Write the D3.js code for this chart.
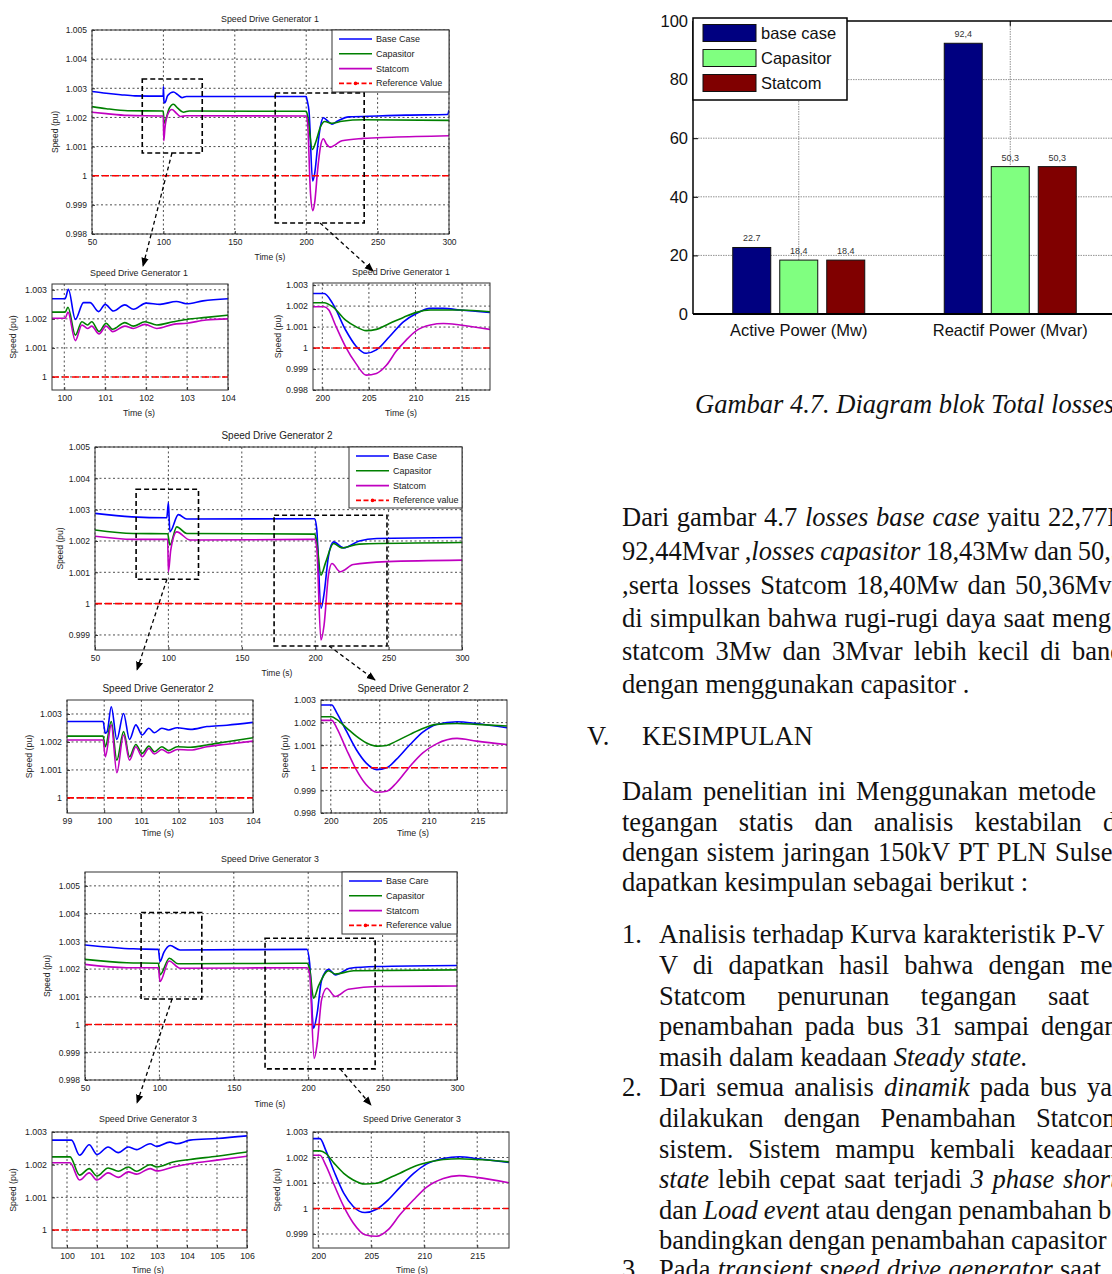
<!DOCTYPE html>
<html>
<head>
<meta charset="UTF-8">
<title>Speed Drive Generator / Total losses</title>
<script src="https://d3js.org/d3.v7.min.js"></script>
<style>
  body { margin: 0; background: #fff; }
  svg { display: block; }
</style>
</head>
<body>
<script>
// ---------- data ----------

// generator 1, full run 50-300 s
var g1Base = [[50,1.00289],[60,1.00283],[70,1.00278],[80,1.00274],[99.9,1.00273],[100,1.00306],[100.4,1.00255],[101,1.0025],[103,1.00275],[107,1.00287],[110,1.00278],[113,1.00268],[116,1.00272],[200,1.00272],[200.5,1.00262],[202,1.0022],[204.5,0.99982],[206,1.0001],[208,1.001],[210,1.0017],[212,1.00199],[215,1.00188],[218,1.00177],[222,1.00188],[230,1.00202],[250,1.00205],[270,1.00208],[299,1.0021],[300,1.00225]];
var g1Cap = [[50,1.00237],[60,1.0023],[75,1.00223],[99.9,1.00222],[100.5,1.0018],[101.5,1.0019],[104,1.0023],[107,1.00245],[110,1.00232],[114,1.00218],[118,1.00222],[200,1.00221],[201,1.00205],[204.3,1.0009],[207,1.0012],[210,1.00168],[213,1.00186],[218,1.0018],[225,1.00187],[240,1.00192],[300,1.0019]];
var g1Stat = [[50,1.00218],[60,1.00213],[75,1.00207],[99.9,1.00205],[100.3,1.0012],[101,1.0016],[103,1.0021],[106,1.00227],[109,1.00215],[112,1.00203],[116,1.00206],[200,1.00205],[201,1.0018],[203,0.9994],[204.7,0.9988],[206,0.9991],[208,1.0002],[210,1.001],[212,1.00127],[214,1.0011],[217,1.00098],[220,1.00105],[225,1.0012],[240,1.00128],[260,1.00132],[300,1.00137]];
// generator 1, zoom on the 100 s event
var g1zBase = [[99.7,1.00269],[100.02,1.00269],[100.1,1.00302],[100.27,1.00198],[100.47,1.00256],[100.63,1.00256],[100.84,1.00225],[101,1.0025],[101.2,1.00227],[101.48,1.00248],[101.69,1.00233],[102,1.00254],[102.34,1.0025],[102.74,1.0026],[102.98,1.00252],[103.39,1.00262],[104,1.00269]];
var g1zCap = [[99.7,1.00223],[100.02,1.00223],[100.09,1.0024],[100.27,1.00144],[100.43,1.0019],[100.57,1.00179],[100.67,1.0019],[100.85,1.00156],[101.02,1.00185],[101.18,1.00164],[101.48,1.00187],[101.69,1.00175],[101.97,1.0019],[102.26,1.00179],[102.66,1.0019],[102.99,1.00198],[103.47,1.00205],[104,1.00213]];
var g1zStat = [[99.7,1.00202],[100.02,1.00202],[100.09,1.00223],[100.27,1.00125],[100.43,1.00179],[100.57,1.00167],[100.67,1.00175],[100.85,1.00148],[101.02,1.00175],[101.18,1.00156],[101.48,1.00175],[101.69,1.00167],[101.97,1.00181],[102.26,1.00167],[102.66,1.00181],[102.99,1.00185],[103.47,1.00196],[104,1.002]];
// generator 1, zoom on the 200 s event
var g1dBase = [[199,1.0026],[200.2,1.0026],[201.1,1.00213],[202.5,1.00086],[203.6,1.0001],[204.7,0.99975],[205.8,0.99991],[207.2,1.00054],[208.7,1.00125],[210.1,1.00165],[211.6,1.00189],[213,1.00189],[214.8,1.00181],[218,1.0017]];
var g1dCap = [[199,1.00216],[200.2,1.00216],[201.1,1.00197],[202.5,1.00133],[203.6,1.00102],[204.7,1.00083],[205.8,1.00089],[207.2,1.00117],[208.7,1.00146],[210.1,1.0017],[211.6,1.00181],[214.8,1.00181],[218,1.00173]];
var g1dStat = [[199,1.00197],[200.2,1.00197],[200.7,1.00181],[201.4,1.0011],[202.5,1.00006],[203.6,0.99927],[204.7,0.99871],[205.8,0.99879],[206.9,0.99919],[207.9,0.99983],[209,1.00038],[210.1,1.00083],[211.6,1.0011],[213,1.00117],[214.8,1.0011],[218,1.00089]];

// generator 2
var g2Base = [[50,1.00288],[75,1.00277],[98.9,1.00274],[100,1.00323],[101,1.00229],[106.8,1.00284],[112.5,1.0027],[199.6,1.00271],[201,1.0024],[204,0.99985],[206,1.0003],[209,1.0015],[212.5,1.00197],[219.3,1.00178],[230,1.002],[242,1.00208],[300,1.00211]];
var g2Cap = [[50,1.00235],[76,1.00224],[99.5,1.00223],[101,1.00187],[105.7,1.00245],[112.5,1.00224],[199.6,1.00222],[201,1.002],[203.9,1.00091],[207,1.0013],[212.5,1.00192],[218,1.00178],[230,1.0019],[300,1.00195]];
var g2Stat = [[50,1.00215],[76,1.00205],[99.5,1.00205],[100,1.00102],[101.6,1.00171],[105.7,1.00229],[114.8,1.00203],[199.6,1.00205],[201,1.0018],[203.9,0.99884],[206,0.9993],[209,1.0009],[211.4,1.00128],[217,1.00102],[226,1.00125],[248.9,1.00134],[300,1.00139]];
var g2zBase = [[99,1.00273],[99.97,1.00273],[100.03,1.00231],[100.08,1.00237],[100.19,1.00326],[100.34,1.00209],[100.52,1.00302],[100.68,1.00209],[100.85,1.00261],[101.02,1.00225],[101.2,1.00249],[101.35,1.00233],[101.55,1.00249],[101.73,1.00243],[101.96,1.00251],[102.32,1.00245],[102.76,1.00255],[103.3,1.0026],[104,1.0027]];
var g2zCap = [[99,1.00221],[99.97,1.00221],[100.03,1.00183],[100.19,1.00273],[100.34,1.00135],[100.52,1.00237],[100.68,1.00147],[100.85,1.00191],[101.02,1.00159],[101.2,1.00185],[101.35,1.00165],[101.55,1.00183],[101.73,1.00169],[101.96,1.00183],[102.32,1.00181],[102.76,1.00189],[103.3,1.00201],[104,1.00215]];
var g2zStat = [[99,1.00207],[99.97,1.00207],[100.03,1.00147],[100.19,1.00261],[100.34,1.0009],[100.52,1.00225],[100.68,1.00135],[100.85,1.00183],[101.02,1.00147],[101.2,1.00177],[101.35,1.00157],[101.55,1.00173],[101.73,1.00161],[101.96,1.00173],[102.32,1.00171],[102.76,1.00183],[103.3,1.00192],[104,1.00203]];
var g2dBase = [[199,1.00278],[200.1,1.00278],[200.6,1.00244],[201.6,1.00162],[202.6,1.00081],[203.6,1.00022],[204.7,0.99992],[205.7,1],[206.7,1.00037],[208.1,1.00103],[209.4,1.00158],[210.8,1.00192],[212.9,1.00204],[214.9,1.00196],[218,1.00177]];
var g2dCap = [[199,1.00226],[200.1,1.00226],[200.6,1.00214],[201.6,1.00177],[202.6,1.0014],[203.6,1.00111],[204.7,1.00096],[205.7,1.00099],[206.7,1.00118],[208.1,1.00148],[209.4,1.00174],[210.8,1.00192],[212.9,1.00196],[214.9,1.00192],[218,1.00185]];
var g2dStat = [[199,1.0021],[200.1,1.0021],[200.6,1.00177],[201.6,1.00081],[202.6,0.99992],[203.6,0.99926],[204.7,0.99892],[205.7,0.99896],[206.7,0.99933],[208.1,1.00007],[209.4,1.00066],[210.8,1.00106],[212.9,1.0013],[214.9,1.00118],[218,1.00103]];

// generator 3
var g3Base = [[50,1.00287],[82.5,1.00273],[99.3,1.00271],[100.4,1.00227],[103,1.0026],[107.2,1.00285],[113.9,1.00269],[199.1,1.00271],[201,1.0022],[203.6,0.99986],[206,1.0004],[209,1.0016],[213.7,1.00199],[218.2,1.00179],[228.2,1.00203],[246,1.00209],[300,1.00213]];
var g3Cap = [[50,1.00235],[78,1.00223],[99.3,1.00221],[100.4,1.00179],[106.7,1.00239],[112.5,1.00219],[199.1,1.00221],[201,1.002],[203.6,1.00095],[207,1.0014],[213.7,1.00194],[218.2,1.00182],[230.5,1.00194],[300,1.00197]];
var g3Stat = [[50,1.00217],[78,1.00205],[99.3,1.00205],[100.4,1.00155],[106.5,1.00229],[113.9,1.00203],[199.1,1.00205],[201,1.0018],[204,0.99878],[206,0.9993],[209,1.0009],[212.5,1.00131],[218.2,1.00101],[227,1.00127],[248.4,1.00137],[300,1.00139]];
var g3zBase = [[99.5,1.00275],[100.15,1.00275],[100.42,1.00229],[100.74,1.00261],[101,1.00231],[101.37,1.00254],[101.71,1.00237],[102.04,1.00254],[102.32,1.00246],[102.77,1.00264],[102.99,1.00256],[103.43,1.00269],[103.66,1.00264],[104.1,1.00275],[105,1.0028],[106,1.00288]];
var g3zCap = [[99.5,1.00224],[100.1,1.00224],[100.42,1.00168],[100.74,1.00188],[101,1.00165],[101.37,1.0019],[101.71,1.0018],[102.04,1.00193],[102.32,1.0018],[102.77,1.002],[102.99,1.00193],[103.54,1.00208],[104.1,1.00216],[105,1.00226],[106,1.00239]];
var g3zStat = [[99.5,1.00206],[100.1,1.00206],[100.42,1.00153],[100.74,1.00175],[101,1.00153],[101.37,1.00175],[101.71,1.00161],[102.04,1.00178],[102.32,1.00171],[102.77,1.00188],[102.99,1.00181],[103.54,1.00193],[104.1,1.00203],[105,1.00214],[106,1.00226]];
var g3dBase = [[199.5,1.00274],[200.16,1.00274],[200.7,1.00229],[201.5,1.00144],[202.4,1.0006],[203.3,1.00008],[204.4,0.99984],[205.5,0.99997],[206.6,1.00034],[207.7,1.00083],[209,1.00138],[210.2,1.00174],[211.8,1.00196],[213.3,1.00203],[214.9,1.00196],[218,1.00181]];
var g3dCap = [[199.5,1.00226],[200.16,1.00226],[200.7,1.00216],[201.5,1.00177],[202.4,1.00138],[203.3,1.00112],[204.4,1.00096],[205.5,1.00099],[206.6,1.00118],[207.7,1.00138],[209,1.00164],[210.2,1.00179],[211.8,1.00192],[213.3,1.00195],[214.9,1.00192],[218,1.00183]];
var g3dStat = [[199.5,1.00209],[200.16,1.00209],[200.7,1.0017],[201.5,1.00092],[202.4,1.00008],[203.3,0.99943],[204.4,0.99897],[205.5,0.99891],[206.6,0.99917],[207.7,0.99975],[209,1.00034],[210.2,1.00083],[211.8,1.00118],[213.3,1.00129],[214.9,1.00122],[218,1.00101]];

var referenceValue = 1;

// zoom boxes drawn on the full runs: [t0, t1, v0, v1]
var g1Boxes = [[85.2,127.2,1.00078,1.00332],[178.3,240.6,0.99838,1.00284]];
var g2Boxes = [[78,120.5,1.00078,1.00365],[172,248.9,0.99865,1.00282]];
var g3Boxes = [[87.7,128.5,1.00092,1.00404],[171,245,0.9984,1.00311]];

// tick labels
var xTicksMain = [50,100,150,200,250,300];
var yTicksMain = [0.998,0.999,1,1.001,1.002,1.003,1.004,1.005];
var yTicksMain2 = [0.999,1,1.001,1.002,1.003,1.004,1.005];
var xTicksZ1 = [100,101,102,103,104];
var xTicksZ2 = [99,100,101,102,103,104];
var xTicksZ3 = [100,101,102,103,104,105,106];
var yTicksZ = [1,1.001,1.002,1.003];
var xTicksDip = [200,205,210,215];
var yTicksDip = [0.998,0.999,1,1.001,1.002,1.003];
var yTicksDip3 = [0.999,1,1.001,1.002,1.003];

var legend1 = ["Base Case","Capasitor","Statcom","Reference Value"];
var legend2 = ["Base Case","Capasitor","Statcom","Reference value"];
var legend3 = ["Base Care","Capasitor","Statcom","Reference value"];

// total losses bar chart
var lossCategories = ["Active Power (Mw)", "Reactif Power (Mvar)"];
var lossSeries = ["base case", "Capasitor", "Statcom"];
var lossBase = [22.7, 92.4];
var lossCap = [18.4, 50.3];
var lossStat = [18.4, 50.3];
var lossLabels = [["22.7","92,4"],["18,4","50,3"],["18,4","50,3"]];
var lossTicks = [0,20,40,60,80,100];

// ---------- styles ----------
var sans = "'Liberation Sans', Arial, sans-serif";
var serif = "'Liberation Serif', 'Times New Roman', serif";
var seriesColors = ["#0000ff", "#008000", "#c000c0"];
var refColor = "#ff0000";
var barColors = ["#000080", "#80ff80", "#800000"];

var svg = d3.select("body").append("svg")
    .attr("width", 1112).attr("height", 1274);
svg.append("rect").attr("width", 1112).attr("height", 1274).attr("fill", "#fff");

var defs = svg.append("defs");
defs.append("marker").attr("id", "arrow")
    .attr("viewBox", "0 0 10 10").attr("refX", 9).attr("refY", 5)
    .attr("markerWidth", 7).attr("markerHeight", 7).attr("orient", "auto")
    .append("path").attr("d", "M0,1 L10,5 L0,9 z").attr("fill", "#000");

var clipCount = 0;
var fmtV = function(d) { return String(+d.toFixed(3)); };

function drawLineChart(c) {
    var x = d3.scaleLinear().domain(c.xd).range([c.left, c.left + c.w]);
    var y = d3.scaleLinear().domain(c.yd).range([c.top + c.h, c.top]);
    var g = svg.append("g").attr("font-family", sans);
    var id = "clip" + (clipCount++);
    defs.append("clipPath").attr("id", id).append("rect")
        .attr("x", c.left).attr("y", c.top).attr("width", c.w).attr("height", c.h);

    // dotted grid
    g.append("g").selectAll("line").data(c.xt).join("line")
        .attr("x1", d => x(d)).attr("x2", d => x(d))
        .attr("y1", c.top).attr("y2", c.top + c.h);
    g.append("g").selectAll("line").data(c.yt).join("line")
        .attr("x1", c.left).attr("x2", c.left + c.w)
        .attr("y1", d => y(d)).attr("y2", d => y(d));
    g.selectAll("line").attr("stroke", "#222").attr("stroke-width", 0.8)
        .attr("stroke-dasharray", "2,2.5");

    // axes
    var ax = g.append("g").attr("transform", "translate(0," + (c.top + c.h) + ")")
        .call(d3.axisBottom(x).tickValues(c.xt).tickSizeInner(-3).tickSizeOuter(0)
            .tickPadding(5).tickFormat(d3.format("d")));
    var ay = g.append("g").attr("transform", "translate(" + c.left + ",0)")
        .call(d3.axisLeft(y).tickValues(c.yt).tickSizeInner(-3).tickSizeOuter(0)
            .tickPadding(5).tickFormat(fmtV));
    [ax, ay].forEach(function(a) {
        a.select(".domain").remove();
        a.selectAll("line").attr("stroke", "#333").attr("stroke-dasharray", null);
        a.selectAll("text").attr("font-size", c.fs).attr("fill", "#222")
            .attr("font-family", sans);
    });

    // series
    var line = d3.line().x(d => x(d[0])).y(d => y(d[1])).curve(d3.curveMonotoneX);
    var plot = g.append("g").attr("clip-path", "url(#" + id + ")");
    c.s.forEach(function(s, i) {
        plot.append("path").datum(s).attr("d", line).attr("fill", "none")
            .attr("stroke", seriesColors[i]).attr("stroke-width", 1.6)
            .attr("stroke-linejoin", "round");
    });
    plot.append("path").datum([[c.xd[0], referenceValue], [c.xd[1], referenceValue]])
        .attr("d", line).attr("fill", "none").attr("stroke", refColor)
        .attr("stroke-width", 1.6).attr("stroke-dasharray", "7,3");

    // frame
    g.append("rect").attr("x", c.left).attr("y", c.top).attr("width", c.w).attr("height", c.h)
        .attr("fill", "none").attr("stroke", "#333").attr("stroke-width", 1);

    // texts
    g.append("text").attr("x", c.tx).attr("y", c.ty).attr("text-anchor", "middle")
        .attr("dominant-baseline", "central").attr("font-size", c.tfs).attr("fill", "#222")
        .text(c.title);
    g.append("text").attr("x", c.tx).attr("y", c.xl).attr("text-anchor", "middle")
        .attr("dominant-baseline", "central").attr("font-size", c.fs).attr("fill", "#222")
        .text("Time (s)");
    g.append("text").attr("transform", "translate(" + c.yl + "," + (c.top + c.h / 2) + ") rotate(-90)")
        .attr("text-anchor", "middle").attr("dominant-baseline", "central")
        .attr("font-size", c.fs).attr("fill", "#222").text("Speed (pu)");

    // legend
    if (c.legend) {
        var L = c.legend;
        var lg = g.append("g");
        lg.append("rect").attr("x", L.x).attr("y", L.y).attr("width", L.w).attr("height", L.h)
            .attr("fill", "#fff").attr("stroke", "#333").attr("stroke-width", 1);
        L.names.forEach(function(n, i) {
            var yy = L.y + 9 + i * 14.8;
            var col = i < 3 ? seriesColors[i] : refColor;
            lg.append("line").attr("x1", L.x + 7).attr("x2", L.x + 40)
                .attr("y1", yy).attr("y2", yy).attr("stroke", col).attr("stroke-width", 1.6)
                .attr("stroke-dasharray", i < 3 ? null : "5,2.5");
            if (i === 3) {
                lg.append("circle").attr("cx", L.x + 23.5).attr("cy", yy).attr("r", 1.8).attr("fill", col);
            }
            lg.append("text").attr("x", L.x + 44).attr("y", yy).attr("dominant-baseline", "central")
                .attr("font-size", 9).attr("fill", "#222").text(n);
        });
    }

    // zoom boxes and arrows
    (c.boxes || []).forEach(function(b) {
        g.append("rect").attr("x", x(b[0])).attr("y", y(b[3]))
            .attr("width", x(b[1]) - x(b[0])).attr("height", y(b[2]) - y(b[3]))
            .attr("fill", "none").attr("stroke", "#000").attr("stroke-width", 1.6)
            .attr("stroke-dasharray", "5,3");
    });
    (c.arrows || []).forEach(function(a) {
        g.append("line").attr("x1", x(a.from[0])).attr("y1", y(a.from[1]))
            .attr("x2", a.to[0]).attr("y2", a.to[1])
            .attr("stroke", "#000").attr("stroke-width", 1.3)
            .attr("stroke-dasharray", "4,3").attr("marker-end", "url(#arrow)");
    });
}

var charts = [
    // generator 1
    {left: 92, top: 30, w: 357, h: 204, xd: [50, 300], yd: [0.998, 1.005], xt: xTicksMain, yt: yTicksMain,
     s: [g1Base, g1Cap, g1Stat], title: "Speed Drive Generator 1", tx: 270, ty: 19, xl: 257, yl: 55, fs: 8.5, tfs: 8.8,
     legend: {x: 332, y: 30, w: 117, h: 62, names: legend1}, boxes: g1Boxes,
     arrows: [{from: [106, 1.00078], to: [143, 266]}, {from: [209.7, 0.99838], to: [373, 271]}]},
    {left: 52, top: 284, w: 176, h: 106, xd: [99.7, 104], yd: [0.99955, 1.0032], xt: xTicksZ1, yt: yTicksZ,
     s: [g1zBase, g1zCap, g1zStat], title: "Speed Drive Generator 1", tx: 139, ty: 273, xl: 413, yl: 13, fs: 8.8, tfs: 8.8},
    {left: 313, top: 283, w: 177, h: 107, xd: [199, 218], yd: [0.998, 1.0031], xt: xTicksDip, yt: yTicksDip,
     s: [g1dBase, g1dCap, g1dStat], title: "Speed Drive Generator 1", tx: 401, ty: 272, xl: 413, yl: 278, fs: 8.8, tfs: 8.8},
    // generator 2
    {left: 95, top: 447, w: 367, h: 203, xd: [50, 300], yd: [0.99852, 1.005], xt: xTicksMain, yt: yTicksMain2,
     s: [g2Base, g2Cap, g2Stat], title: "Speed Drive Generator 2", tx: 277, ty: 435, xl: 673, yl: 60, fs: 8.5, tfs: 10,
     legend: {x: 349, y: 447, w: 113, h: 61, names: legend2}, boxes: g2Boxes,
     arrows: [{from: [99, 1.00078], to: [137, 670]}, {from: [209.4, 0.99865], to: [375, 680]}]},
    {left: 67, top: 700, w: 186, h: 113, xd: [99, 104], yd: [0.99946, 1.0035], xt: xTicksZ2, yt: yTicksZ,
     s: [g2zBase, g2zCap, g2zStat], title: "Speed Drive Generator 2", tx: 158, ty: 688, xl: 833, yl: 29, fs: 8.8, tfs: 10},
    {left: 321, top: 700, w: 186, h: 113, xd: [199, 218], yd: [0.998, 1.003], xt: xTicksDip, yt: yTicksDip,
     s: [g2dBase, g2dCap, g2dStat], title: "Speed Drive Generator 2", tx: 413, ty: 688, xl: 833, yl: 285, fs: 8.8, tfs: 10},
    // generator 3
    {left: 85, top: 872, w: 372, h: 208, xd: [50, 300], yd: [0.998, 1.0055], xt: xTicksMain, yt: yTicksMain,
     s: [g3Base, g3Cap, g3Stat], title: "Speed Drive Generator 3", tx: 270, ty: 859, xl: 1104, yl: 47, fs: 8.5, tfs: 8.8,
     legend: {x: 342, y: 872, w: 115, h: 62, names: legend3}, boxes: g3Boxes,
     arrows: [{from: [108.5, 1.00092], to: [137, 1103]}, {from: [221.4, 0.9984], to: [371, 1105]}]},
    {left: 52, top: 1132, w: 195, h: 116, xd: [99.5, 106], yd: [0.99945, 1.003], xt: xTicksZ3, yt: yTicksZ,
     s: [g3zBase, g3zCap, g3zStat], title: "Speed Drive Generator 3", tx: 148, ty: 1119, xl: 1270, yl: 13, fs: 8.8, tfs: 8.8},
    {left: 313, top: 1132, w: 196, h: 116, xd: [199.5, 218], yd: [0.99845, 1.003], xt: xTicksDip, yt: yTicksDip3,
     s: [g3dBase, g3dCap, g3dStat], title: "Speed Drive Generator 3", tx: 412, ty: 1119, xl: 1270, yl: 277, fs: 8.8, tfs: 8.8}
];
charts.forEach(drawLineChart);

// ---------- total losses bar chart ----------
(function() {
    var left = 693, top = 21, bottom = 314, right = 1112;
    var x = d3.scaleBand().domain(lossCategories).range([left, left + 423]);
    var xs = d3.scaleBand().domain(lossSeries).range([-66, 66]).paddingInner(0.1915);
    var y = d3.scaleLinear().domain([0, 100]).range([bottom, top]);
    var values = [lossBase, lossCap, lossStat];
    var g = svg.append("g").attr("font-family", sans);

    // grid
    g.append("g").selectAll("line").data(lossTicks.slice(1, -1)).join("line")
        .attr("x1", left).attr("x2", right).attr("y1", d => y(d)).attr("y2", d => y(d))
        .attr("stroke", "#777").attr("stroke-width", 0.8).attr("stroke-dasharray", "1.5,1");
    g.append("g").selectAll("line").data(lossCategories).join("line")
        .attr("x1", d => x(d) + x.bandwidth() / 2).attr("x2", d => x(d) + x.bandwidth() / 2)
        .attr("y1", top).attr("y2", bottom)
        .attr("stroke", "#777").attr("stroke-width", 0.8).attr("stroke-dasharray", "1.5,1");

    // bars
    values.forEach(function(vals, si) {
        g.append("g").selectAll("rect").data(vals).join("rect")
            .attr("x", (d, i) => x(lossCategories[i]) + x.bandwidth() / 2 + xs(lossSeries[si]))
            .attr("y", d => y(d)).attr("width", xs.bandwidth()).attr("height", d => bottom - y(d))
            .attr("fill", barColors[si]).attr("stroke", "#111").attr("stroke-width", 1);
        g.append("g").selectAll("text").data(vals).join("text")
            .attr("x", (d, i) => x(lossCategories[i]) + x.bandwidth() / 2 + xs(lossSeries[si]) + xs.bandwidth() / 2)
            .attr("y", d => y(d) - 6).attr("text-anchor", "middle")
            .attr("font-size", 9).attr("fill", "#333")
            .text((d, i) => lossLabels[si][i]);
    });

    // axes and frame
    var ay = g.append("g").attr("transform", "translate(" + left + ",0)")
        .call(d3.axisLeft(y).tickValues(lossTicks).tickSizeInner(-5).tickSizeOuter(0).tickPadding(5));
    ay.select(".domain").remove();
    ay.selectAll("line").attr("stroke", "#000");
    ay.selectAll("text").attr("font-size", 16.5).attr("fill", "#111").attr("font-family", sans);
    var ax = g.append("g").attr("transform", "translate(0," + top + ")")
        .call(d3.axisBottom(x).tickSizeInner(5).tickSizeOuter(0).tickFormat(""));
    ax.select(".domain").remove();
    ax.selectAll("line").attr("stroke", "#000");
    g.append("line").attr("x1", left).attr("x2", right).attr("y1", top).attr("y2", top)
        .attr("stroke", "#000").attr("stroke-width", 1.5);
    g.append("line").attr("x1", left).attr("x2", left).attr("y1", top).attr("y2", bottom)
        .attr("stroke", "#000").attr("stroke-width", 1.5);
    g.append("line").attr("x1", left).attr("x2", right).attr("y1", bottom).attr("y2", bottom)
        .attr("stroke", "#000").attr("stroke-width", 2);
    g.append("g").selectAll("text").data(lossCategories).join("text")
        .attr("x", d => x(d) + x.bandwidth() / 2).attr("y", 330)
        .attr("text-anchor", "middle").attr("dominant-baseline", "central")
        .attr("font-size", 16.5).attr("fill", "#111").text(d => d);

    // legend
    var lg = g.append("g");
    lg.append("rect").attr("x", 693).attr("y", 18).attr("width", 154).attr("height", 82)
        .attr("fill", "#fff").attr("stroke", "#000").attr("stroke-width", 1.5);
    lossSeries.forEach(function(n, i) {
        var yy = 33 + i * 25;
        lg.append("rect").attr("x", 703).attr("y", yy - 8.5).attr("width", 53).attr("height", 17)
            .attr("fill", barColors[i]).attr("stroke", "#111");
        lg.append("text").attr("x", 761).attr("y", yy).attr("dominant-baseline", "central")
            .attr("font-size", 16.5).attr("fill", "#111").text(n);
    });
})();

// ---------- page text ----------
svg.append("text").attr("x", 695).attr("y", 413).attr("font-family", serif)
    .attr("font-style", "italic").attr("font-size", 26.5).attr("fill", "#111")
    .text("Gambar 4.7. Diagram blok Total losses");

// j = where the last word of a justified line starts on the page
var bodyLines = [
    {x: 622, y: 526, t: [["Dari gambar 4.7 ", 0], ["losses base case", 1], [" yaitu 22,77Mw", 0]], j: 1048},
    {x: 622, y: 560, t: [["92,44Mvar ,", 0], ["losses capasitor", 1], [" 18,43Mw dan 50,36Mvar", 0]], j: 1077},
    {x: 622, y: 594, t: [[",serta losses Statcom 18,40Mw dan 50,36Mvar", 0]], j: 1015},
    {x: 622, y: 627, t: [["di simpulkan bahwa rugi-rugi daya saat menggunakan", 0]], j: 1052},
    {x: 622, y: 660, t: [["statcom 3Mw dan 3Mvar lebih kecil di bandingkan", 0]], j: 1072},
    {x: 622, y: 693, t: [["dengan menggunakan capasitor .", 0]]},
    {x: 587, y: 745, t: [["V.", 0]]},
    {x: 642, y: 745, t: [["KESIMPULAN", 0]]},
    {x: 622, y: 800, t: [["Dalam penelitian ini Menggunakan metode", 0]], j: 1018},
    {x: 622, y: 831, t: [["tegangan statis dan analisis kestabilan dinamik", 0]], j: 1103},
    {x: 622, y: 861, t: [["dengan sistem jaringan 150kV PT PLN Sulselbar", 0]], j: 1055},
    {x: 622, y: 891, t: [["dapatkan kesimpulan sebagai berikut :", 0]]},
    {x: 622, y: 943, t: [["1.", 0]]},
    {x: 659, y: 943, t: [["Analisis terhadap Kurva karakteristik P-V", 0]], j: 1062},
    {x: 659, y: 974, t: [["V di dapatkan hasil bahwa dengan menggunakan", 0]], j: 1080},
    {x: 659, y: 1005, t: [["Statcom penurunan tegangan saat", 0]], j: 1048},
    {x: 659, y: 1035, t: [["penambahan pada bus 31 sampai dengan", 0]], j: 1041},
    {x: 659, y: 1066, t: [["masih dalam keadaan ", 0], ["Steady state.", 1]]},
    {x: 622, y: 1096, t: [["2.", 0]]},
    {x: 659, y: 1096, t: [["Dari semua analisis ", 0], ["dinamik", 1], [" pada bus yang", 0]], j: 1087},
    {x: 659, y: 1127, t: [["dilakukan dengan Penambahan Statcom", 0]], j: 1036},
    {x: 659, y: 1158, t: [["sistem. Sistem mampu kembali keadaan", 0]], j: 1030},
    {x: 659, y: 1188, t: [["state", 1], [" lebih cepat saat terjadi ", 0], ["3 phase short", 1]], j: 1063},
    {x: 659, y: 1219, t: [["dan ", 0], ["Load even", 1], ["t atau dengan penambahan beban", 0]], j: 1098},
    {x: 659, y: 1249, t: [["bandingkan dengan penambahan capasitor", 0]], j: 1011},
    {x: 622, y: 1278, t: [["3.", 0]]},
    {x: 659, y: 1278, t: [["Pada ", 0], ["transient speed drive generator", 1], [" saat", 0]], j: 1060}
];

var textG = svg.append("g").attr("font-family", serif).attr("font-size", 26.5).attr("fill", "#111");
bodyLines.forEach(function(l) {
    var t = textG.append("text").attr("x", l.x).attr("y", l.y);
    l.t.forEach(function(seg) {
        t.append("tspan").attr("font-style", seg[1] ? "italic" : "normal").text(seg[0]);
    });
    if (l.j) {
        // stretch the word gaps so the last visible word sits where it does in the page
        var full = l.t.map(s => s[0]).join("");
        var idx = full.lastIndexOf(" ") + 1;
        var gaps = full.slice(0, idx).split(" ").length - 1;
        var pos = t.node().getStartPositionOfChar(idx).x;
        var ws = gaps > 0 ? Math.max(-1, (l.j - pos) / gaps) : 0;
        t.style("word-spacing", ws + "px");
    }
});
</script>
</body>
</html>
